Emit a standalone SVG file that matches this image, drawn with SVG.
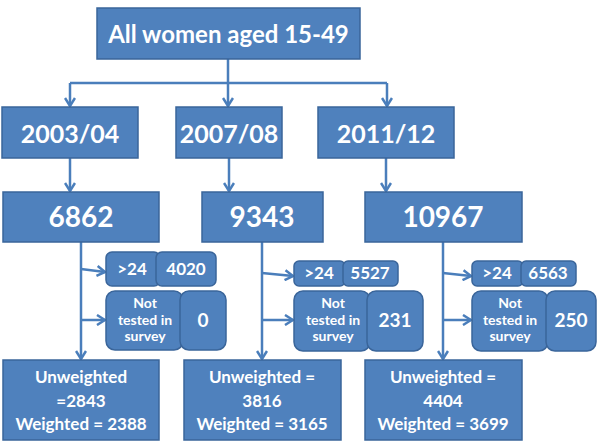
<svg xmlns="http://www.w3.org/2000/svg" width="600" height="448" viewBox="0 0 600 448">
<defs>
<style>
.box{fill:#4F81BD;stroke:#3A659A;stroke-width:1.5}
.rbox{fill:#4F81BD;stroke:#3A659A;stroke-width:1.5}
.t{fill:#fff;font-family:Lato,"Liberation Sans",sans-serif;font-weight:bold;text-anchor:middle}
.c{fill:none;stroke:#4A7EBB;stroke-width:2.5}
</style>
<marker id="ah" viewBox="0 0 10 12" refX="9" refY="6" markerWidth="10" markerHeight="12" markerUnits="userSpaceOnUse" orient="auto">
<path d="M1,1 L9,6 L1,11" fill="none" stroke="#4A7EBB" stroke-width="2.5"/>
</marker>
</defs>
<rect width="600" height="448" fill="#fff"/>
<g id="connectors">
<path class="c" d="M228,59 V83 M70,83 H387"/>
<path class="c" d="M70,83 V106" marker-end="url(#ah)"/>
<path class="c" d="M228,83 V106" marker-end="url(#ah)"/>
<path class="c" d="M387,83 V106" marker-end="url(#ah)"/>
<path class="c" d="M70,158 V191" marker-end="url(#ah)"/>
<path class="c" d="M229,158 V191" marker-end="url(#ah)"/>
<path class="c" d="M386,158 V191" marker-end="url(#ah)"/>
<path class="c" d="M81,242 V359" marker-end="url(#ah)"/>
<path class="c" d="M262,242 V359" marker-end="url(#ah)"/>
<path class="c" d="M443,242 V359" marker-end="url(#ah)"/>
<path class="c" d="M81,269 L105,272" marker-end="url(#ah)"/>
<path class="c" d="M81,320 H105" marker-end="url(#ah)"/>
<path class="c" d="M262,273 L293,276" marker-end="url(#ah)"/>
<path class="c" d="M262,320 H293" marker-end="url(#ah)"/>
<path class="c" d="M443,273 L471,276" marker-end="url(#ah)"/>
<path class="c" d="M443,320 H471" marker-end="url(#ah)"/>
</g>
<g id="top"><rect class="box" x="97" y="8" width="263" height="51"/><text class="t" x="228.5" y="43" font-size="24">All women aged 15-49</text></g>
<g id="y2003"><rect class="box" x="2" y="107" width="136" height="51"/><text class="t" x="70" y="143" font-size="25">2003/04</text></g>
<g id="y2007"><rect class="box" x="176" y="107" width="106" height="51"/><text class="t" x="229" y="143" font-size="25">2007/08</text></g>
<g id="y2011"><rect class="box" x="318" y="107" width="136" height="51"/><text class="t" x="386" y="143" font-size="25">2011/12</text></g>
<g id="n6862"><rect class="box" x="3" y="192" width="156" height="50"/><text class="t" x="81" y="227" font-size="28">6862</text></g>
<g id="n9343"><rect class="box" x="202" y="192" width="121" height="50"/><text class="t" x="262" y="227" font-size="28">9343</text></g>
<g id="n10967"><rect class="box" x="365" y="192" width="157" height="50"/><text class="t" x="443" y="227" font-size="28">10967</text></g>
<g id="c1gt24"><rect class="rbox" x="106" y="252" width="54" height="34" rx="6"/><text class="t" x="132" y="275" font-size="17">&gt;24</text></g>
<g id="c1v4020"><rect class="rbox" x="156" y="252" width="60" height="34" rx="6"/><text class="t" x="186" y="275" font-size="17">4020</text></g>
<g id="c1nt"><rect class="rbox" x="106" y="291" width="77" height="59" rx="9"/><text class="t" x="145" y="308" font-size="14">Not</text><text class="t" x="145" y="325" font-size="14">tested in</text><text class="t" x="145" y="341" font-size="14">survey</text></g>
<g id="c1v0"><rect class="rbox" x="180" y="291" width="46" height="59" rx="9"/><text class="t" x="203" y="327" font-size="19">0</text></g>
<g id="c2gt24"><rect class="rbox" x="294" y="261" width="51" height="25" rx="5"/><text class="t" x="319" y="279" font-size="17">&gt;24</text></g>
<g id="c2v5527"><rect class="rbox" x="343" y="261" width="55" height="25" rx="5"/><text class="t" x="370" y="279" font-size="17">5527</text></g>
<g id="c2nt"><rect class="rbox" x="294" y="291" width="76" height="60" rx="9"/><text class="t" x="333" y="308" font-size="14">Not</text><text class="t" x="333" y="325" font-size="14">tested in</text><text class="t" x="333" y="341" font-size="14">survey</text></g>
<g id="c2v231"><rect class="rbox" x="367" y="291" width="56" height="60" rx="9"/><text class="t" x="395" y="327" font-size="19">231</text></g>
<g id="c3gt24"><rect class="rbox" x="472" y="261" width="51" height="25" rx="5"/><text class="t" x="497" y="279" font-size="17">&gt;24</text></g>
<g id="c3v6563"><rect class="rbox" x="521" y="261" width="55" height="25" rx="5"/><text class="t" x="548" y="279" font-size="17">6563</text></g>
<g id="c3nt"><rect class="rbox" x="472" y="291" width="76" height="60" rx="9"/><text class="t" x="510" y="308" font-size="14">Not</text><text class="t" x="510" y="325" font-size="14">tested in</text><text class="t" x="510" y="341" font-size="14">survey</text></g>
<g id="c3v250"><rect class="rbox" x="546" y="291" width="50" height="60" rx="9"/><text class="t" x="571" y="327" font-size="19">250</text></g>
<g id="b1"><rect class="box" x="3" y="360" width="156" height="80"/><text class="t" x="81" y="383" font-size="17">Unweighted</text><text class="t" x="81" y="407" font-size="17">=2843</text><text class="t" x="81" y="430" font-size="17">Weighted = 2388</text></g>
<g id="b2"><rect class="box" x="184" y="360" width="157" height="80"/><text class="t" x="262" y="383" font-size="17">Unweighted =</text><text class="t" x="262" y="407" font-size="17">3816</text><text class="t" x="262" y="430" font-size="17">Weighted = 3165</text></g>
<g id="b3"><rect class="box" x="365" y="360" width="157" height="80"/><text class="t" x="443" y="383" font-size="17">Unweighted =</text><text class="t" x="443" y="407" font-size="17">4404</text><text class="t" x="443" y="430" font-size="17">Weighted = 3699</text></g>
</svg>
